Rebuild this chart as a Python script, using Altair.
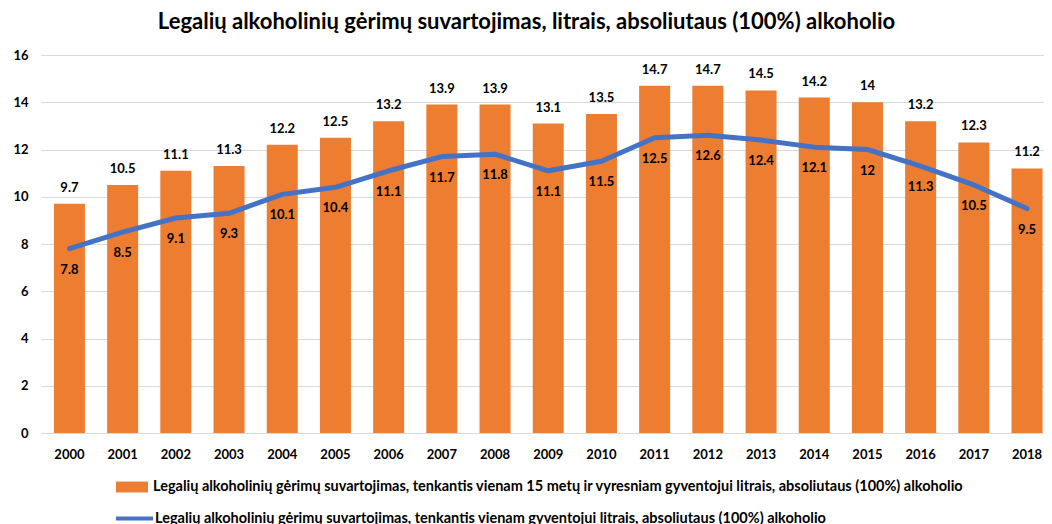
import altair as alt
import pandas as pd

years = [str(y) for y in range(2000, 2019)]
bar_values = [9.7, 10.5, 11.1, 11.3, 12.2, 12.5, 13.2, 13.9, 13.9, 13.1, 13.5, 14.7, 14.7, 14.5, 14.2, 14, 13.2, 12.3, 11.2]
line_values = [7.8, 8.5, 9.1, 9.3, 10.1, 10.4, 11.1, 11.7, 11.8, 11.1, 11.5, 12.5, 12.6, 12.4, 12.1, 12, 11.3, 10.5, 9.5]
y_ticks = [0, 2, 4, 6, 8, 10, 12, 14, 16]

title_text = "Legalių alkoholinių gėrimų suvartojimas, litrais, absoliutaus (100%) alkoholio"
bar_name = "Legalių alkoholinių gėrimų suvartojimas, tenkantis vienam 15 metų ir vyresniam gyventojui litrais, absoliutaus (100%) alkoholio"
line_name = "Legalių alkoholinių gėrimų suvartojimas, tenkantis vienam gyventojui litrais, absoliutaus (100%) alkoholio"

FONT = "Lato"
ORANGE = "#ED7D31"
BLUE = "#4472C4"

df = pd.DataFrame({
    "year": years,
    "bar": bar_values,
    "line": line_values,
    "bar_series": [bar_name] * len(years),
    "line_series": [line_name] * len(years),
})

x = alt.X(
    "year:N",
    sort=years,
    scale=alt.Scale(paddingInner=0.417, paddingOuter=0.135, align=0.9),
    axis=alt.Axis(
        title=None, labelAngle=0, ticks=False, domain=False,
        labelFont=FONT, labelFontWeight="bold", labelFontSize=13,
        labelColor="#000000", labelPadding=15,
    ),
)

yscale = alt.Scale(domain=[0, 16], nice=False)

base = alt.Chart(df)

bars = base.mark_bar().encode(
    x=x,
    y=alt.Y(
        "bar:Q", scale=yscale,
        axis=alt.Axis(
            title=None, values=y_ticks, ticks=False, domain=False,
            grid=True, gridColor="#D9D9D9", gridWidth=1,
            labelFont=FONT, labelFontWeight="bold", labelFontSize=13,
            labelColor="#000000", labelPadding=13,
        ),
    ),
    color=alt.Color(
        "bar_series:N",
        scale=alt.Scale(domain=[bar_name], range=[ORANGE]),
        legend=alt.Legend(
            title=None, orient="none", legendX=75, legendY=416,
            symbolType="M-1,-0.34H1V0.34H-1Z", symbolSize=1024,
            symbolStrokeWidth=0, labelOffset=5,
            labelFont=FONT, labelFontWeight="bold", labelFontSize=14.5,
            labelColor="#000000", labelLimit=0,
        ),
    ),
)

bar_labels = base.mark_text(
    baseline="bottom", dy=-9, font=FONT, fontWeight="bold", fontSize=13, color="#000000"
).encode(
    x=alt.X("year:N", sort=years),
    y=alt.Y("bar:Q", scale=yscale),
    text=alt.Text("bar:Q", format="~g"),
)

line = base.mark_line(strokeWidth=5, strokeCap="round", strokeJoin="round").encode(
    x=alt.X("year:N", sort=years),
    y=alt.Y("line:Q", scale=yscale),
    stroke=alt.Stroke(
        "line_series:N",
        scale=alt.Scale(domain=[line_name], range=[BLUE]),
        legend=alt.Legend(
            title=None, orient="none", legendX=73, legendY=443,
            symbolType="stroke", symbolSize=1369, symbolStrokeWidth=4,
            labelOffset=0,
            labelFont=FONT, labelFontWeight="bold", labelFontSize=14.5,
            labelColor="#000000", labelLimit=0,
        ),
    ),
)

line_labels = base.mark_text(
    baseline="middle", dy=21, font=FONT, fontWeight="bold", fontSize=13, color="#000000"
).encode(
    x=alt.X("year:N", sort=years),
    y=alt.Y("line:Q", scale=yscale),
    text=alt.Text("line:Q", format="~g"),
)

chart = alt.layer(bars, bar_labels, line, line_labels).properties(
    width=1003,
    height=378,
    autosize=alt.AutoSizeParams(type="none"),
    padding={"left": 33, "top": 47, "right": 0, "bottom": 91},
    title=alt.TitleParams(
        text=title_text, font=FONT, fontSize=22, fontWeight="bold",
        color="#000000", anchor="middle", offset=15, dx=-16,
    ),
).configure_view(stroke=None)

chart.save("out.html", embed_options={"renderer": "svg", "actions": False})
